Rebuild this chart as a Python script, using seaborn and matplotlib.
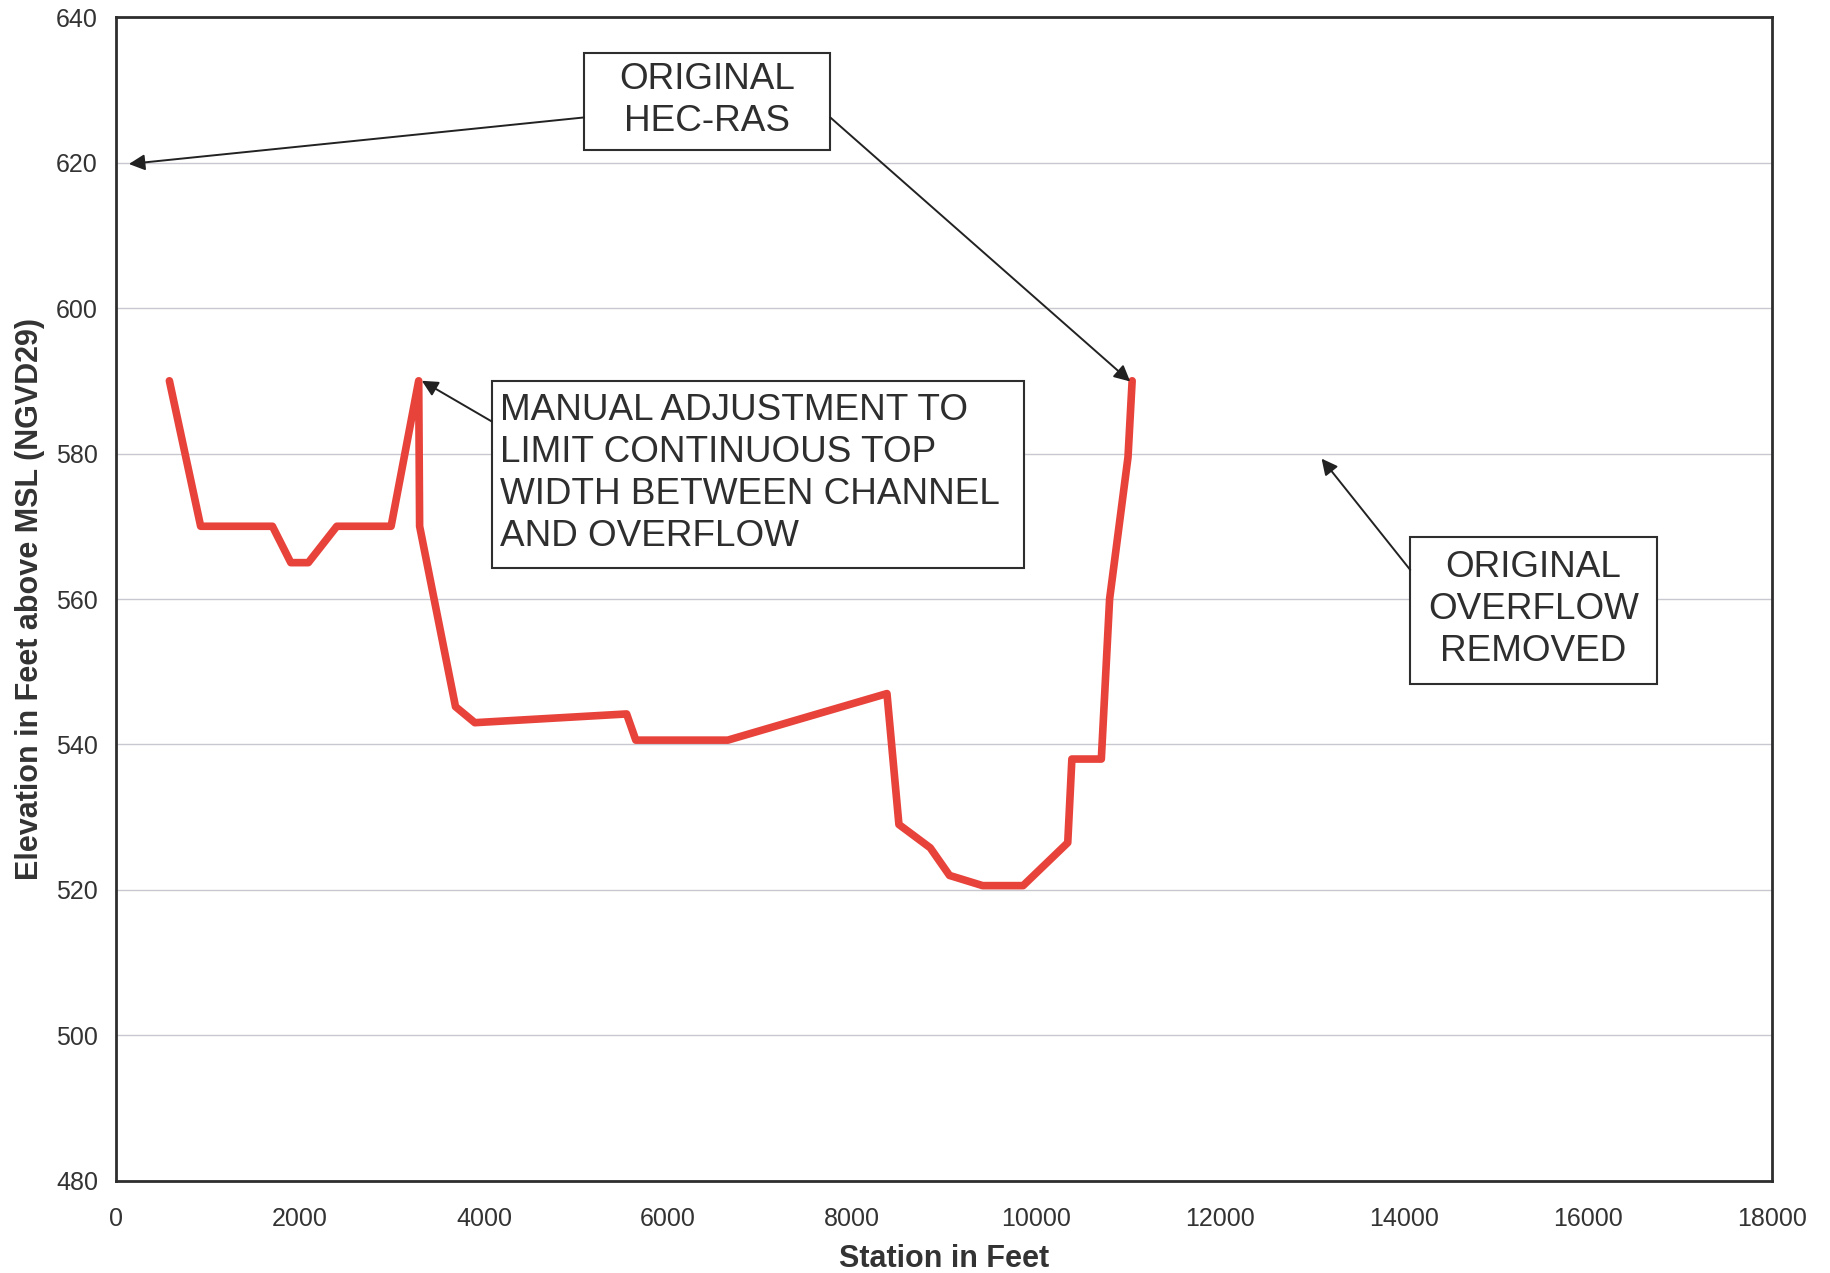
import pandas as pd
import matplotlib
matplotlib.use("Agg")
import matplotlib.pyplot as plt
from matplotlib.patches import Rectangle
import seaborn as sns

sns.set_style("white")
plt.rcParams["font.family"] = ["Liberation Sans", "DejaVu Sans"]

# cross section (station ft, elevation ft)
station = [580, 920, 1700, 1900, 2090, 2400, 2990, 3290, 3300, 3690, 3900,
           5550, 5650, 6650, 8380, 8510, 8850, 9060, 9420, 9860, 10345,
           10390, 10710, 10800, 11000, 11045]
elevation = [590, 570, 570, 565, 565, 570, 570, 590, 570, 545.2, 543,
             544.2, 540.6, 540.6, 547, 529, 525.8, 522, 520.6, 520.6, 526.5,
             538, 538, 560, 579.5, 590]

xticks = list(range(0, 18001, 2000))
yticks = list(range(480, 641, 20))

note_hec = "ORIGINAL\nHEC-RAS"
note_manual = "MANUAL ADJUSTMENT TO\nLIMIT CONTINUOUS TOP\nWIDTH BETWEEN CHANNEL\nAND OVERFLOW"
note_overflow = "ORIGINAL\nOVERFLOW\nREMOVED"

df = pd.DataFrame({"Station": station, "Elevation": elevation})

fig = plt.figure(figsize=(18.3, 12.73), dpi=100)
ax = fig.add_axes([0.0634, 0.0723, 0.9049, 0.9143])

sns.lineplot(x="Station", y="Elevation", data=df, sort=False, ax=ax,
             color="#e8433b", lw=5.5, estimator=None)

ax.set_xlim(0, 18000)
ax.set_ylim(480, 640)
ax.set_xticks(xticks)
ax.set_yticks(yticks)
ax.yaxis.grid(True, color="#c8c8d0", lw=1)
ax.xaxis.grid(False)
for s in ax.spines.values():
    s.set_color("#2e2e2e")
    s.set_linewidth(2)
ax.tick_params(axis="both", labelsize=18, colors="#333333", length=5,
               width=1, direction="out")
ax.tick_params(axis="x", pad=14)
ax.tick_params(axis="y", pad=8)
for lab in ax.get_xticklabels() + ax.get_yticklabels():
    lab.set_color("#333333")

ax.set_xlabel("Station in Feet", fontsize=22, fontweight="bold", color="#333333", labelpad=9)
ax.set_ylabel("Elevation in Feet above MSL (NGVD29)", fontsize=22, fontweight="bold",
              color="#333333", labelpad=8)

# note boxes (data coords: x0, y0, width, height)
for x0, y0, w, h in [(5087, 621.7, 2677, 13.3),
                     (4085, 564.2, 5784, 25.8),
                     (14068, 548.3, 2677, 20.2)]:
    ax.add_patch(Rectangle((x0, y0), w, h, fc="white", ec="#2e2e2e", lw=1.5, zorder=3))

txt = dict(fontsize=26.6, color="#2e2e2e", linespacing=1.26, zorder=4)
ax.text(6425, 628.5, note_hec, ha="center", va="center", **txt)
ax.text(4174, 577.3, note_manual, ha="left", va="center", **txt)
ax.text(15406, 558.6, note_overflow, ha="center", va="center", **txt)

arrow = dict(arrowstyle="-|>", color="#222222", lw=1.4, mutation_scale=24,
             shrinkA=0, shrinkB=0)
ax.annotate("", xy=(140, 619.8), xytext=(5087, 626.2), arrowprops=arrow)
ax.annotate("", xy=(11024, 589.9), xytext=(7764, 626.2), arrowprops=arrow)
ax.annotate("", xy=(3324, 590), xytext=(4085, 584.4), arrowprops=arrow)
ax.annotate("", xy=(13104, 579.3), xytext=(14068, 564), arrowprops=arrow)

fig.savefig("out.png", dpi=100)
